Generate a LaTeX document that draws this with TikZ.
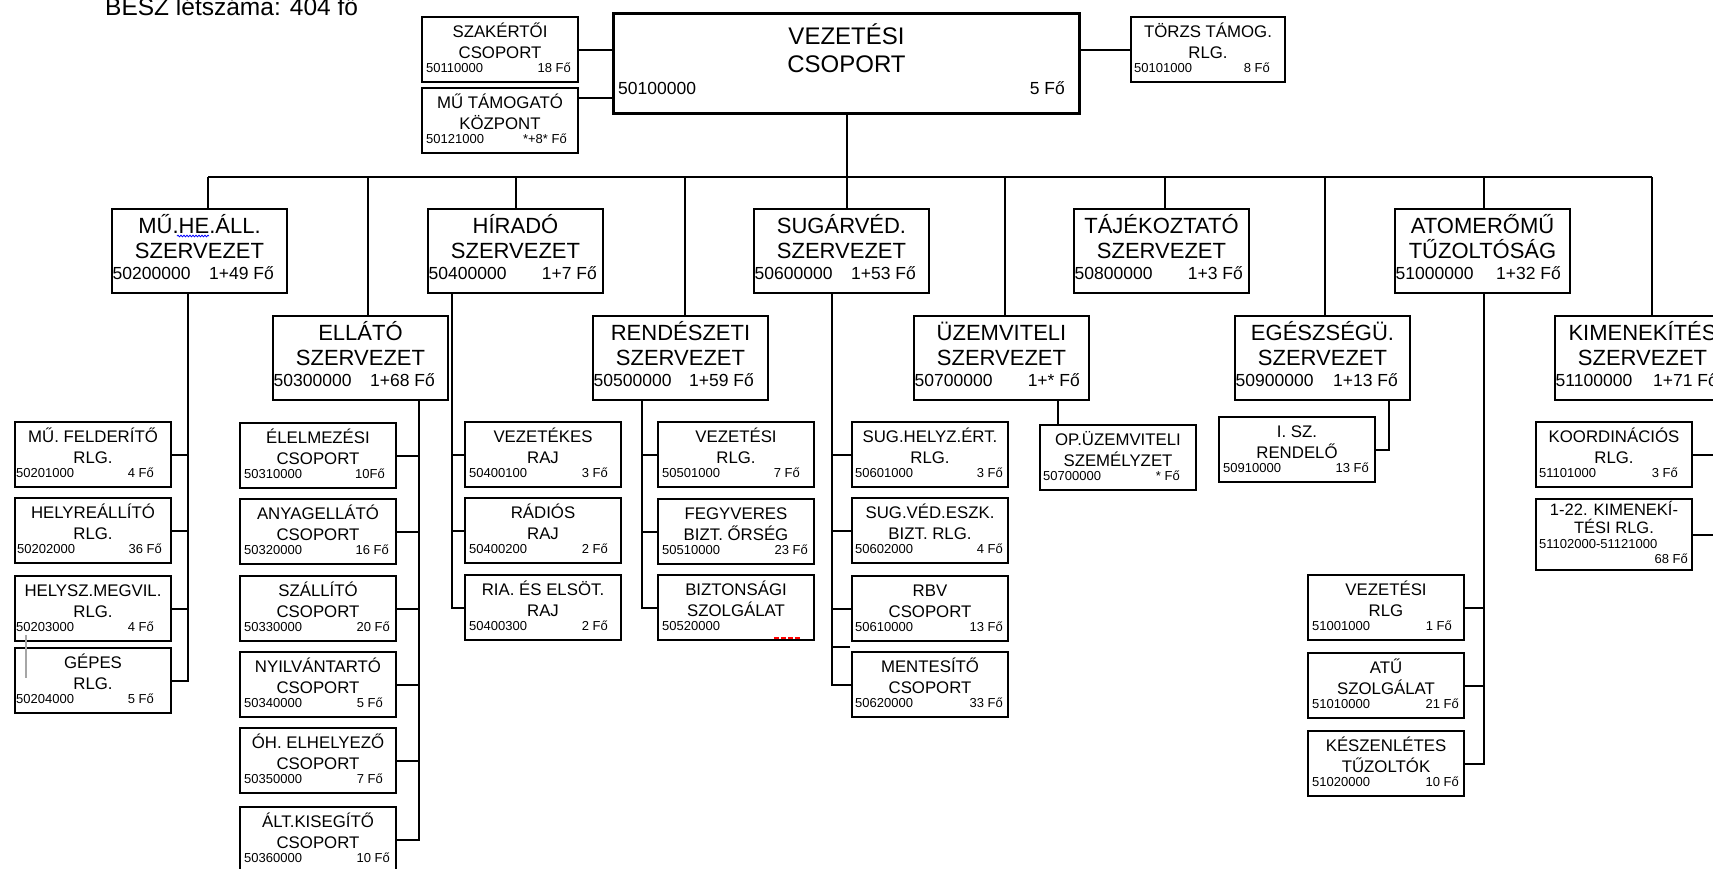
\documentclass[tikz,border=0pt]{standalone}
\usepackage{fontspec}
\setmainfont{Liberation Sans}
\usetikzlibrary{calc,decorations.pathmorphing}

\tikzset{
  box/.style={draw, line width=2pt, inner sep=0pt, anchor=north west},
  bigbox/.style={box, minimum width=175pt, minimum height=84pt},
  smallbox/.style={box, minimum width=156pt, minimum height=65pt},
  maintitle/.style={anchor=base, inner sep=0pt, font=\fontsize{24}{28}\selectfont},
  bigtitle/.style={anchor=base, inner sep=0pt, font=\fontsize{22}{26}\selectfont},
  bignum/.style={inner sep=0pt, font=\fontsize{17.5}{20}\selectfont},
  smalltitle/.style={anchor=base, inner sep=0pt, font=\fontsize{16.8}{20}\selectfont},
  smallnum/.style={inner sep=0pt, font=\fontsize{13}{15}\selectfont},
  conn/.style={line width=2pt},
}

% #1 name, #2 position, #3 line1, #4 line2, #5 number, #6 count, #7 number offset, #8 count gap
\newcommand\bigunit[8]{%
  \node[bigbox] (#1) at (#2) {};
  \node[bigtitle] (#1-a) at ($(#1.north)+(0,25)$) {#3};
  \node[bigtitle] (#1-b) at ($(#1.north)+(0,50)$) {#4};
  \node[bignum,anchor=base west] (#1-n) at ($(#1.north west)+(#7,71)$) {#5};
  \node[bignum,anchor=base east] (#1-c) at ($(#1.north east)+(-#8,71)$) {#6};
}
\newcommand\smallunit[8]{%
  \node[smallbox] (#1) at (#2) {};
  \node[smalltitle] (#1-a) at ($(#1.north)+(0,21)$) {#3};
  \node[smalltitle] (#1-b) at ($(#1.north)+(0,42)$) {#4};
  \node[smallnum,anchor=base west] (#1-n) at ($(#1.north west)+(#7,56)$) {#5};
  \node[smallnum,anchor=base east] (#1-c) at ($(#1.north east)+(-#8,56)$) {#6};
}

\begin{document}
\begin{tikzpicture}[x=1pt,y=-1pt]
\useasboundingbox (0,0) rectangle (1713,868);
\fill[white] (0,0) rectangle (1713,868);
\clip (0,0) rectangle (1713,868);

\node[anchor=base west, inner sep=0pt, font=\fontsize{24.5}{28}\selectfont] (besz) at (105,15) {BESZ létszáma: 404 fő};

% ---------- top row ----------
\node[box, line width=3pt, minimum width=466pt, minimum height=100pt] (main) at (612,12) {};
\node[maintitle] (main-a) at ($(main.north)+(0,32)$) {VEZETÉSI};
\node[maintitle] (main-b) at ($(main.north)+(0,60)$) {CSOPORT};
\node[bignum,anchor=base west] (main-n) at ($(main.north west)+(6,82)$) {50100000};
\node[bignum,anchor=base east] (main-c) at ($(main.north east)+(-16,82)$) {5 Fő};

\smallunit{szak}{421,16}{SZAKÉRTŐI}{CSOPORT}{50110000}{18 Fő}{5}{8}
\smallunit{mutam}{421,87}{MŰ TÁMOGATÓ}{KÖZPONT}{50121000}{*+8* Fő}{5}{12}

\node[box, minimum width=154pt, minimum height=65pt] (torzs) at (1130,16) {};
\node[smalltitle] (torzs-a) at ($(torzs.north)+(0,21)$) {TÖRZS TÁMOG.};
\node[smalltitle] (torzs-b) at ($(torzs.north)+(0,42)$) {RLG.};
\node[smallnum,anchor=base west] (torzs-n) at ($(torzs.north west)+(4,56)$) {50101000};
\node[smallnum,anchor=base east] (torzs-c) at ($(torzs.north east)+(-16,56)$) {8 Fő};

% ---------- level 2 ----------
\bigunit{mhe}{111,208}{MŰ.HE.ÁLL.}{SZERVEZET}{50200000}{1+49 Fő}{1.5}{14}
\bigunit{hir}{427,208}{HÍRADÓ}{SZERVEZET}{50400000}{1+7 Fő}{1.5}{7}
\bigunit{sug}{753,208}{SUGÁRVÉD.}{SZERVEZET}{50600000}{1+53 Fő}{1.5}{14}
\bigunit{taj}{1073,208}{TÁJÉKOZTATÓ}{SZERVEZET}{50800000}{1+3 Fő}{1.5}{7}
\bigunit{atom}{1394,208}{ATOMERŐMŰ}{TŰZOLTÓSÁG}{51000000}{1+32 Fő}{1.5}{10}

\bigunit{ell}{272,315}{ELLÁTÓ}{SZERVEZET}{50300000}{1+68 Fő}{1.5}{14}
\bigunit{ren}{592,315}{RENDÉSZETI}{SZERVEZET}{50500000}{1+59 Fő}{1.5}{15}
\bigunit{uzem}{913,315}{ÜZEMVITELI}{SZERVEZET}{50700000}{1+* Fő}{1.5}{10}
\bigunit{egs}{1234,315}{EGÉSZSÉGÜ.}{SZERVEZET}{50900000}{1+13 Fő}{1.5}{13}
\bigunit{kim}{1554,315}{KIMENEKÍTÉS}{SZERVEZET}{51100000}{1+71 Fő}{1.5}{13}

\draw[blue, line width=0.8pt, decorate, decoration={snake, amplitude=0.8pt, segment length=3pt}]
  ($(mhe.north west)+(66,28)$) -- ($(mhe.north west)+(98,28)$);

% ---------- level 3 ----------
\smallunit{mfel}{14,421}{MŰ. FELDERÍTŐ}{RLG.}{50201000}{4 Fő}{2}{18}
\smallunit{helyr}{14,497}{HELYREÁLLÍTÓ}{RLG.}{50202000}{36 Fő}{3}{10}
\smallunit{helysz}{14,575}{HELYSZ.MEGVIL.}{RLG.}{50203000}{4 Fő}{2}{18}
\smallunit{gepes}{14,647}{GÉPES}{RLG.}{50204000}{5 Fő}{2}{18}

\smallunit{elel}{239,422}{ÉLELMEZÉSI}{CSOPORT}{50310000}{10Fő}{5}{12}
\smallunit{anyag}{239,498}{ANYAGELLÁTÓ}{CSOPORT}{50320000}{16 Fő}{5}{8}
\smallunit{szall}{239,575}{SZÁLLÍTÓ}{CSOPORT}{50330000}{20 Fő}{5}{7}
\smallunit{nyilv}{239,651}{NYILVÁNTARTÓ}{CSOPORT}{50340000}{5 Fő}{5}{14}
\smallunit{oh}{239,727}{ÓH. ELHELYEZŐ}{CSOPORT}{50350000}{7 Fő}{5}{14}
\smallunit{alt}{239,806}{ÁLT.KISEGÍTŐ}{CSOPORT}{50360000}{10 Fő}{5}{7}

\smallunit{vezk}{464,421}{VEZETÉKES}{RAJ}{50400100}{3 Fő}{5}{14}
\smallunit{rad}{464,497}{RÁDIÓS}{RAJ}{50400200}{2 Fő}{5}{14}
\smallunit{ria}{464,574}{RIA. ÉS ELSÖT.}{RAJ}{50400300}{2 Fő}{5}{14}

\smallunit{vezr}{657,421}{VEZETÉSI}{RLG.}{50501000}{7 Fő}{5}{15}
\smallunit{fegy}{657,498}{FEGYVERES}{BIZT. ŐRSÉG}{50510000}{23 Fő}{5}{7}
\smallunit{bizt}{657,574}{BIZTONSÁGI}{SZOLGÁLAT}{50520000}{}{5}{7}
\draw[red, line width=1.5pt, dash pattern=on 5pt off 2pt] ($(bizt.south east)+(-41,-3)$) -- ($(bizt.south east)+(-15,-3)$);

\smallunit{sugh}{851,421}{SUG.HELYZ.ÉRT.}{RLG.}{50601000}{3 Fő}{4}{6}
\smallunit{sugv}{851,497}{SUG.VÉD.ESZK.}{BIZT. RLG.}{50602000}{4 Fő}{4}{6}
\smallunit{rbv}{851,575}{RBV}{CSOPORT}{50610000}{13 Fő}{4}{6}
\smallunit{ment}{851,651}{MENTESÍTŐ}{CSOPORT}{50620000}{33 Fő}{4}{6}

\smallunit{op}{1039,424}{OP.ÜZEMVITELI}{SZEMÉLYZET}{50700000}{* Fő}{4}{17}
\smallunit{isz}{1218,416}{I. SZ.}{RENDELŐ}{50910000}{13 Fő}{5}{7}

\smallunit{vezat}{1307,574}{VEZETÉSI}{RLG}{51001000}{1 Fő}{5}{13}
\smallunit{atu}{1307,652}{ATŰ}{SZOLGÁLAT}{51010000}{21 Fő}{5}{6}
\smallunit{kesz}{1307,730}{KÉSZENLÉTES}{TŰZOLTÓK}{51020000}{10 Fő}{5}{6}

\smallunit{koord}{1535,421}{KOORDINÁCIÓS}{RLG.}{51101000}{3 Fő}{4}{15}
\node[box, minimum width=156pt, minimum height=71pt] (kim22) at (1535,498) {};
\node[anchor=base, inner sep=0pt, font=\fontsize{16.5}{20}\selectfont] (kim22-a) at ($(kim22.north)+(0,17)$) {1-22. KIMENEKÍ-};
\node[anchor=base, inner sep=0pt, font=\fontsize{16.5}{20}\selectfont] (kim22-b) at ($(kim22.north)+(0,35)$) {TÉSI RLG.};
\node[smallnum,anchor=base west] (kim22-n) at ($(kim22.north west)+(4,50)$) {51102000-51121000};
\node[smallnum,anchor=base east] (kim22-c) at ($(kim22.north east)+(-5,65)$) {68 Fő};

% grey artefact
\draw[gray!70, line width=1.8pt] ($(gepes.north west)+(12,-12)$) -- ($(gepes.north west)+(12,31)$);

% ---------- connectors ----------
\draw[conn] (szak.east) -- (szak.east -| main.west);
\coordinate (mutj) at ($(mutam.north east)+(0,11)$);
\draw[conn] (mutj) -- (mutj -| main.west);
\draw[conn] (torzs.west) -- (torzs.west -| main.east);

\coordinate (busL) at (208,177);
\coordinate (busR) at (1652,177);
\draw[conn] (busL) -- (busR);
\draw[conn] (main.south) -- (main.south |- sug.north);
\coordinate (s-ell) at (368,177);
\coordinate (s-hir) at (516,177);
\coordinate (s-ren) at (685,177);
\coordinate (s-uzem) at (1005,177);
\coordinate (s-taj) at (1165,177);
\coordinate (s-egs) at (1325,177);
\coordinate (s-atom) at (1484,177);
\draw[conn] (busL) -- (busL |- mhe.north);
\draw[conn] (busR) -- (busR |- kim.north);
\foreach \u in {ell,hir,ren,uzem,taj,egs,atom}
  \draw[conn] (s-\u) -- (s-\u |- \u.north);

% trunks
\coordinate (t-mhe) at (188,0);
\draw[conn] (mhe.south -| t-mhe) -- (gepes.east -| t-mhe) -- (gepes.east);
\foreach \b in {mfel,helyr,helysz} \draw[conn] (\b.east) -- (\b.east -| t-mhe);

\coordinate (t-ell) at (419,0);
\draw[conn] (ell.south -| t-ell) -- (alt.east -| t-ell) -- (alt.east);
\foreach \b in {elel,anyag,szall,nyilv,oh} \draw[conn] (\b.east) -- (\b.east -| t-ell);

\coordinate (t-hir) at (452,0);
\draw[conn] (hir.south -| t-hir) -- (ria.west -| t-hir) -- (ria.west);
\foreach \b in {vezk,rad} \draw[conn] (\b.west) -- (\b.west -| t-hir);

\coordinate (t-ren) at (642,0);
\draw[conn] (ren.south -| t-ren) -- (bizt.west -| t-ren) -- (bizt.west);
\foreach \b in {vezr,fegy} \draw[conn] (\b.west) -- (\b.west -| t-ren);

\coordinate (t-sug) at (832,0);
\draw[conn] (sug.south -| t-sug) -- (ment.west -| t-sug) -- (ment.west);
\foreach \b in {sugh,sugv,rbv} \draw[conn] (\b.west) -- (\b.west -| t-sug);
\coordinate (mtick) at ($(ment.north west)+(-1,-4)$);
\draw[conn] (mtick) -- (mtick -| t-sug);

\coordinate (t-uzem) at (1058,0);
\draw[conn] (uzem.south -| t-uzem) -- (op.north -| t-uzem);

\coordinate (t-egs) at (1389,0);
\draw[conn] (egs.south -| t-egs) -- (isz.east -| t-egs) -- (isz.east);

\coordinate (t-atom) at (1484,0);
\draw[conn] (atom.south -| t-atom) -- (kesz.east -| t-atom) -- (kesz.east);
\foreach \b in {vezat,atu} \draw[conn] (\b.east -| t-atom) -- (\b.east);

\coordinate (t-kim) at (1725,0);
\draw[conn] (kim.south -| t-kim) -- (kim22.east -| t-kim) -- (kim22.east);
\draw[conn] (koord.east) -- (koord.east -| t-kim);
\end{tikzpicture}
\end{document}
